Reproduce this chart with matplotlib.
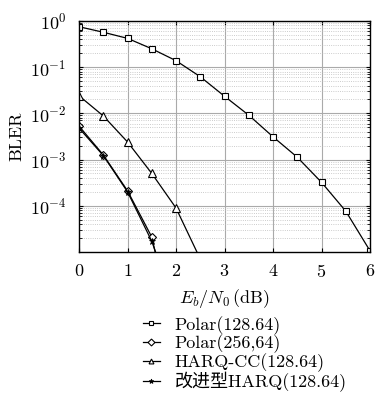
import numpy as np
import matplotlib.pyplot as plt
from matplotlib.ticker import LogLocator, NullFormatter

plt.rcParams['font.family'] = ['cmr10', 'Noto Sans CJK SC', 'DejaVu Sans']
plt.rcParams['mathtext.fontset'] = 'cm'
plt.rcParams['axes.formatter.use_mathtext'] = True
plt.rcParams['axes.unicode_minus'] = False

# data
snr_polar128 = [0, 0.5, 1, 1.5, 2, 2.5, 3, 3.5, 4, 4.5, 5, 5.5, 6]
bler_polar128 = [0.75, 0.57, 0.42, 0.25, 0.138, 0.062, 0.0234, 0.0091,
                 0.0031, 0.00112, 3.2e-4, 7.6e-5, 1.05e-5]

snr_polar256 = [0, 0.5, 1, 1.5, 2]
bler_polar256 = [0.0053, 0.00126, 2.1e-4, 2.1e-5, 1e-7]

snr_harqcc = [0, 0.5, 1, 1.5, 2, 2.5]
bler_harqcc = [0.024, 0.0088, 0.0024, 5.0e-4, 8.9e-5, 7e-6]

snr_improved = [0, 0.5, 1, 1.5, 2]
bler_improved = [0.0048, 0.00122, 2.0e-4, 1.7e-5, 5.5e-7]

labels = ['Polar(128.64)', 'Polar(256,64)', 'HARQ-CC(128.64)', '改进型HARQ(128.64)']

fig = plt.figure(figsize=(3.78, 4.03), dpi=100)
ax = fig.add_axes([0.209, 0.375, 0.770, 0.573])

ax.semilogy(snr_polar128, bler_polar128, 'k-', marker='s', mfc='white', ms=4.5, mew=0.8, lw=0.9, label=labels[0])
ax.semilogy(snr_polar256, bler_polar256, 'k-', marker='D', mfc='white', ms=4, mew=0.8, lw=0.9, label=labels[1])
ax.semilogy(snr_harqcc, bler_harqcc, 'k-', marker='^', mfc='white', ms=5.5, mew=0.8, lw=0.9, label=labels[2])
ax.semilogy(snr_improved, bler_improved, 'k-', marker='*', mfc='black', ms=5, mew=0.6, lw=0.9, label=labels[3])

ax.set_xlim(0, 6)
ax.set_ylim(1e-5, 1)
ax.set_xticks([0, 1, 2, 3, 4, 5, 6])
ax.set_yticks([1, 1e-1, 1e-2, 1e-3, 1e-4])
ax.yaxis.set_minor_locator(LogLocator(base=10, subs=np.arange(2, 10), numticks=20))
ax.yaxis.set_minor_formatter(NullFormatter())

ax.grid(True, which='major', color='#aaaaaa', lw=0.8, ls='-')
ax.grid(True, which='minor', axis='y', color='#bbbbbb', lw=0.6, ls=':')
ax.set_axisbelow(True)

ax.tick_params(which='both', direction='in', top=True, right=True, labelsize=13)
ax.tick_params(which='major', length=3)
ax.tick_params(which='minor', length=2)
ax.tick_params(axis='x', pad=8)
ax.tick_params(axis='y', pad=9)
for s in ax.spines.values():
    s.set_linewidth(1.0)

ax.set_xlabel(r'$E_b/N_0\,$(dB)', fontsize=13, labelpad=5)
ax.set_ylabel('BLER', fontsize=13, labelpad=4)

leg = fig.legend(loc='upper left', bbox_to_anchor=(0.378, 0.216), frameon=False,
                 fontsize=13, handlelength=0.95, handletextpad=0.8, labelspacing=0,
                 borderpad=0, borderaxespad=0)
for h in leg.legend_handles:
    h.set_markersize(3.5)

fig.savefig('out.png', dpi=100)
